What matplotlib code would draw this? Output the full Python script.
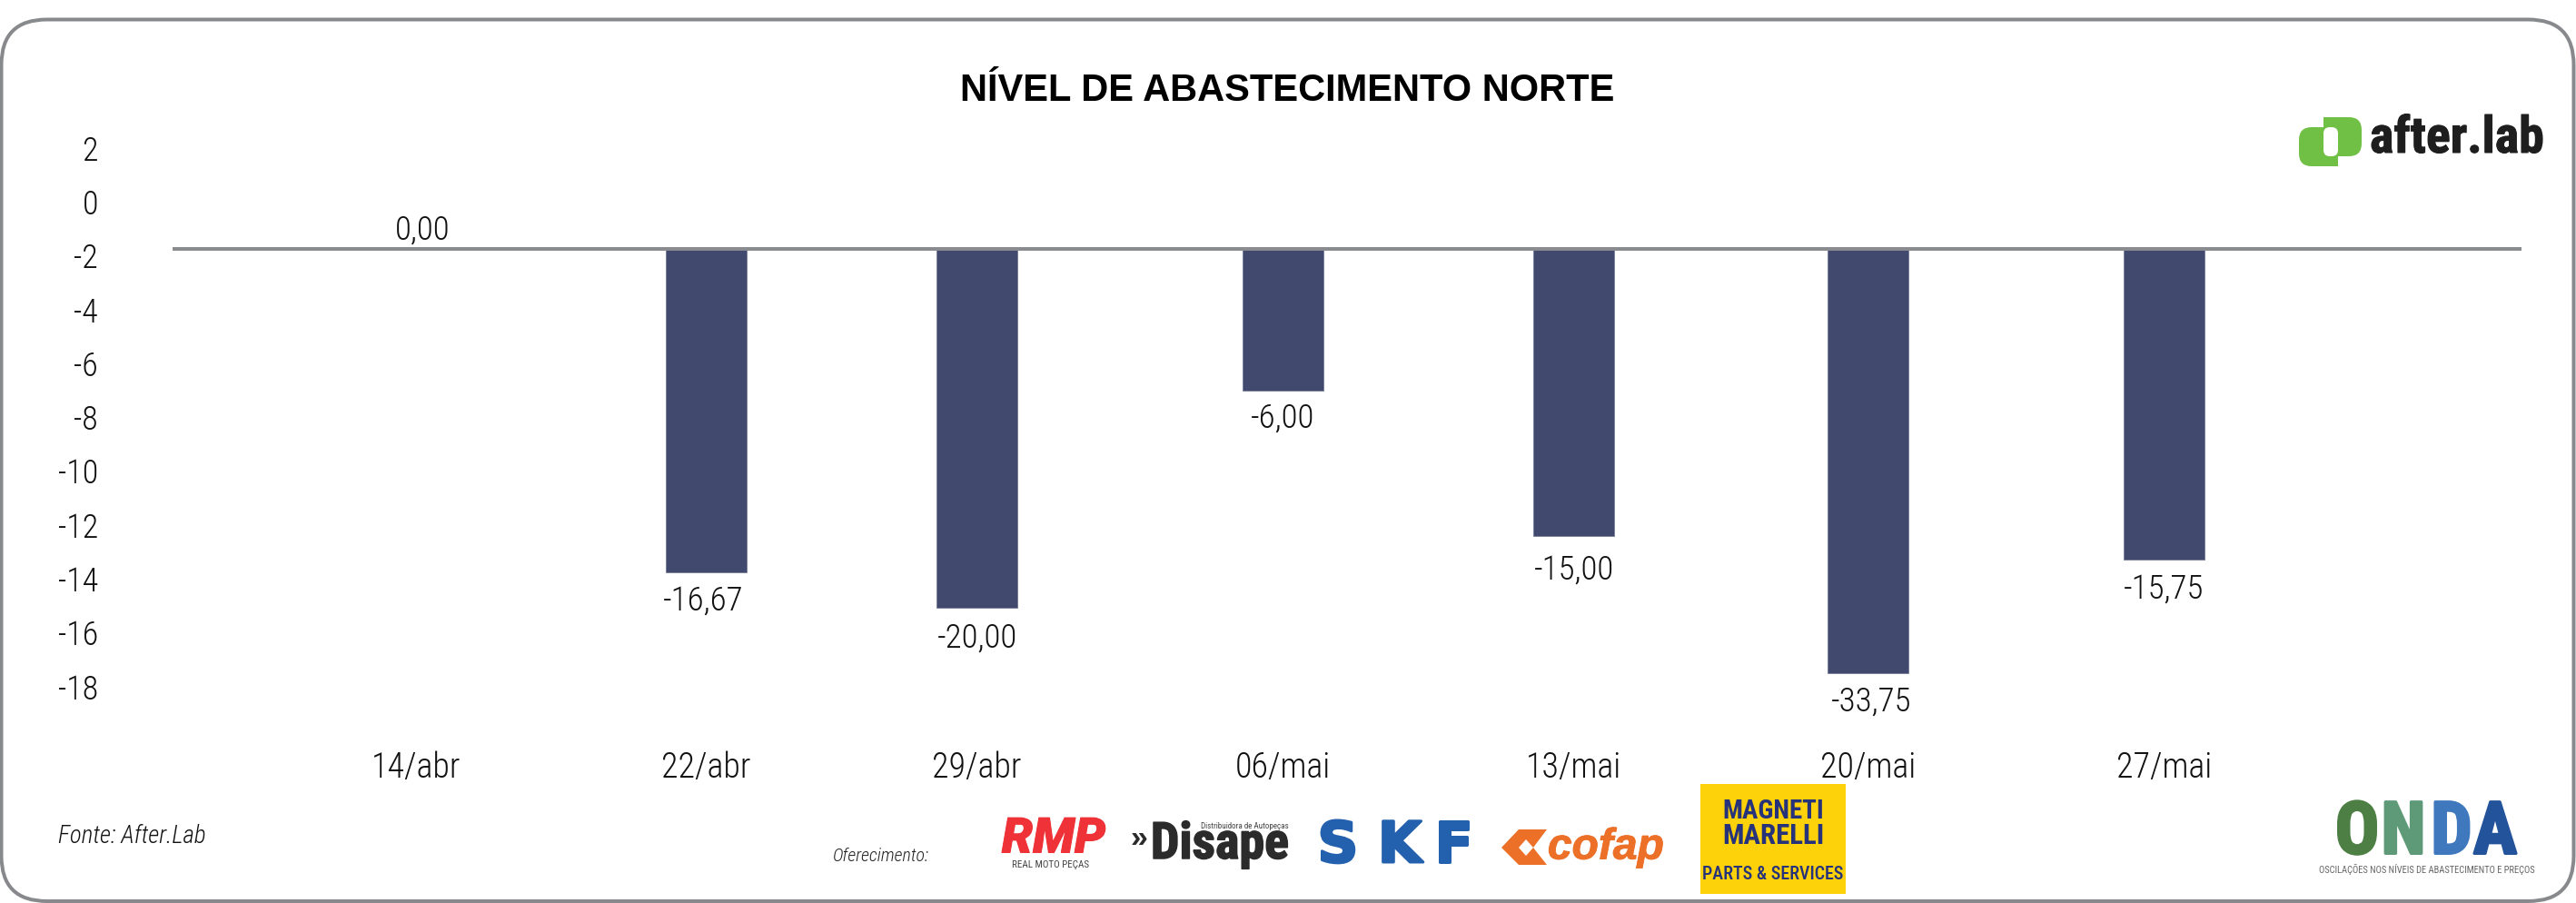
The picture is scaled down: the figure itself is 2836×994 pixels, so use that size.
import matplotlib
matplotlib.use("Agg")
import matplotlib.pyplot as plt
import matplotlib.patheffects as pe
from matplotlib.patches import FancyBboxPatch, Rectangle, Polygon
from matplotlib.transforms import ScaledTranslation

# ---- data ----
categories = ["14/abr", "22/abr", "29/abr", "06/mai", "13/mai", "20/mai", "27/mai"]
value_labels = [0.00, -16.67, -20.00, -6.00, -15.00, -33.75, -15.75]
bar_ends_on_axis = [-1.64, -13.66, -14.97, -6.91, -12.31, -17.40, -13.20]
axis_baseline = -1.64
y_ticks = [2, 0, -2, -4, -6, -8, -10, -12, -14, -16, -18]

# ---- layout ----
W, H, DPI = 2836, 994, 100
FONT = "Roboto Condensed"
slot_nudges = [0.0, -0.004, -0.076, -0.024, -0.027, -0.015, 0.0]
label_nudges_px = [7, -3, 1, 0, 1, 3, 0]
label_drop_px = [-20, 32, 34, 31, 38, 32, 32]
positions = [i + n for i, n in enumerate(slot_nudges)]
PX = 72 / DPI
INK = "#111111"

fig = plt.figure(figsize=(W / DPI, H / DPI), dpi=DPI, facecolor="white")
ax_left, ax_right = 190, 2776
ax_top, ax_bottom = 136, 818
ax = fig.add_axes([ax_left / W, 1 - ax_bottom / H, (ax_right - ax_left) / W, (ax_bottom - ax_top) / H])
ax.patch.set_alpha(0)
ax.set_ylim(-20, 3)
ax.set_xlim((ax_left - 458) / 320.75, (ax_right - 458) / 320.75)

heights = [e - axis_baseline for e in bar_ends_on_axis]
ax.bar(positions, heights, bottom=axis_baseline, width=89 / 320.75, color="#414a6e",
       edgecolor="#6a7290", linewidth=0.5, zorder=2)
ax.axhline(axis_baseline, color="#8a8b8e", linewidth=4 * PX, zorder=3)

for p, e, v, n, dr in zip(positions, bar_ends_on_axis, value_labels, label_nudges_px, label_drop_px):
    ax.annotate(f"{v:.2f}".replace(".", ","), (p, e), xytext=(n * PX, -dr * PX),
                textcoords="offset points", ha="center", va="center", fontsize=37 * PX,
                family=FONT, weight=300, color=INK)

ax.set_xticks(positions, categories)
ax.set_yticks(y_ticks, [str(t) for t in y_ticks])
ax.tick_params(axis="x", length=0, pad=8 * PX, labelsize=38 * PX, labelcolor=INK)
ax.tick_params(axis="y", length=0, pad=82 * PX, labelsize=36 * PX, labelcolor=INK)
lift = ScaledTranslation(0, 3 / DPI, fig.dpi_scale_trans)
for lab in ax.get_xticklabels() + ax.get_yticklabels():
    lab.set_family(FONT)
    lab.set_weight(300)
for lab in ax.get_yticklabels():
    lab.set_verticalalignment("center_baseline")
    lab.set_transform(lab.get_transform() + lift)
for s in ax.spines.values():
    s.set_visible(False)

# ---- overlay in pixel coordinates: frame, title, credits and logos ----
d = fig.add_axes([0, 0, 1, 1], zorder=5)
d.set_xlim(0, W)
d.set_ylim(H, 0)
d.axis("off")
d.patch.set_alpha(0)

def heavy(t, color, px):
    t.set_path_effects([pe.withStroke(linewidth=px * PX, foreground=color)])
    return t

d.add_patch(FancyBboxPatch((1.5, 21.5), 2832, 970.5, boxstyle="round,pad=0,rounding_size=50",
                           fc="none", ec="#88898c", lw=4 * PX))
d.text(1417, 100, "NÍVEL DE ABASTECIMENTO NORTE", family="Liberation Sans", weight="bold",
       fontsize=41.6 * PX, ha="center", va="center", color="black")
d.text(64, 921, "Fonte: After.Lab", family=FONT, weight=300, style="italic", fontsize=27 * PX, va="center", color=INK)
d.text(917, 943, "Oferecimento:", family=FONT, weight=300, style="italic", fontsize=20 * PX, va="center", color="#222222")

# after.lab
green = "#6fc045"
d.add_patch(FancyBboxPatch((2558, 129), 42, 43, boxstyle="round,pad=0,rounding_size=14", fc=green, ec="none"))
d.add_patch(FancyBboxPatch((2531, 140), 43, 43, boxstyle="round,pad=0,rounding_size=14", fc=green, ec="none"))
d.add_patch(Rectangle((2558, 129), 14, 20, fc=green, ec="none"))
d.add_patch(Rectangle((2560, 162), 14, 21, fc=green, ec="none"))
d.add_patch(FancyBboxPatch((2558, 140), 16, 32, boxstyle="round,pad=0,rounding_size=7", fc="white", ec="none"))
heavy(d.text(2705, 153, "after.lab", family=FONT, weight="bold", fontsize=56 * PX,
             ha="center", va="center", color="#1e1e1e"), "#1e1e1e", 1)

# sponsors
heavy(d.text(1160, 924, "RMP", family="Roboto", weight=900, style="italic", fontsize=54 * PX,
             ha="center", va="center", color="#ef3237"), "#ef3237", 1)
d.text(1157, 952, "REAL MOTO PEÇAS", family=FONT, fontsize=11 * PX, ha="center", va="center", color="#444444")
d.text(1254, 923, "»", family="Liberation Sans", weight="bold", fontsize=34 * PX, ha="center", va="center", color="#2b2b2b")
heavy(d.text(1343, 930, "Disape", family=FONT, weight="bold", fontsize=56 * PX, ha="center", va="center",
             color="#2b2b2b"), "#2b2b2b", 1.5)
d.text(1370, 910, "Distribuidora de Autopeças", family=FONT, fontsize=9 * PX, ha="center", va="center", color="#444444")
for ch, cx in zip("SKF", [1473, 1541, 1600]):
    heavy(d.text(cx, 932, ch, family="DejaVu Sans", weight="bold", fontsize=62 * PX, ha="center", va="center",
                 color="#2360ad"), "#2360ad", 3)
d.add_patch(Polygon([(1653, 933), (1672, 913), (1703, 913), (1688, 933), (1703, 952), (1672, 952)], fc="#ec7028", ec="none"))
d.add_patch(Polygon([(1672, 933), (1680, 924), (1688, 933), (1680, 942)], fc="white", ec="none"))
heavy(d.text(1768, 933, "cofap", family="Liberation Sans", weight="bold", style="italic", fontsize=48 * PX,
             ha="center", va="center", color="#ec7028"), "#ec7028", 1)
d.add_patch(Rectangle((1872, 863), 160, 121, fc="#fdd20a", ec="none"))
d.text(1952, 893, "MAGNETI", family=FONT, weight="bold", fontsize=29 * PX, ha="center", va="center", color="#26327a")
d.text(1952, 920, "MARELLI", family=FONT, weight="bold", fontsize=31 * PX, ha="center", va="center", color="#26327a")
d.text(1952, 963, "PARTS & SERVICES", family=FONT, weight=500, fontsize=20 * PX, ha="center", va="center", color="#26327a")

# ONDA
for ch, cx, col in zip("ONDA", [2595, 2646, 2699, 2747], ["#4d7f45", "#5f9a78", "#3f78bd", "#23539a"]):
    heavy(d.text(cx, 918, ch, family=FONT, weight="bold", fontsize=80 * PX, ha="center", va="center", color=col), col, 3)
d.text(2672, 957, "OSCILAÇÕES NOS NÍVEIS DE ABASTECIMENTO E PREÇOS", family=FONT, fontsize=10.5 * PX,
       ha="center", va="center", color="#666666")

fig.savefig("out.png", dpi=DPI)
